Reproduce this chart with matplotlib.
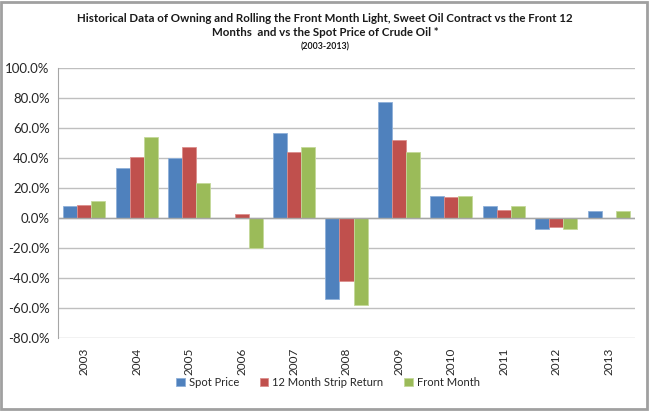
import matplotlib
matplotlib.use("Agg")
import matplotlib.pyplot as plt
import numpy as np
from matplotlib.patches import Rectangle
from matplotlib.ticker import FuncFormatter

years = ["2003", "2004", "2005", "2006", "2007", "2008", "2009", "2010", "2011", "2012", "2013"]
spot_price = [7.7, 33.5, 40.2, 0.0, 56.8, -53.8, 77.6, 14.8, 8.0, -7.3, 4.9]
strip_return = [8.4, 40.6, 47.6, 2.4, 43.8, -42.2, 51.8, 13.8, 5.1, -5.8, 0.0]
front_month = [11.5, 54.0, 23.0, -20.2, 47.1, -58.2, 44.2, 14.8, 8.0, -7.3, 4.9]
series_names = ["Spot Price", "12 Month Strip Return", "Front Month"]

plt.rcParams['font.family'] = ['Lato', 'DejaVu Sans']

fig = plt.figure(figsize=(6.5, 4.11), dpi=100)
ax = fig.add_axes([58/650, 1-338/411, (635-58)/650, (338-68)/411])

colors = ["#4F81BD", "#C0504D", "#9BBB59"]
edges = ["#8fb0d9", "#dc8e8c", "#c4d99a"]
x = np.arange(len(years))
w = 0.267
for i, (vals, c, e, n) in enumerate(zip([spot_price, strip_return, front_month], colors, edges, series_names)):
    ax.bar(x + (i-1)*w, vals, width=w, color=c, edgecolor=e, linewidth=0.6, label=n, zorder=3)

ax.set_xlim(-0.5, len(years)-0.5)
ax.set_ylim(-80, 100)
ax.set_yticks(np.arange(-80, 101, 20))
ax.yaxis.set_major_formatter(FuncFormatter(lambda v, p: f"{v:.1f}%"))
ax.grid(axis='y', color='#bfbfbf', linewidth=1.0, zorder=0)
ax.axhline(0, color='#a6a6a6', linewidth=1.0, zorder=4)
for s in ['top', 'right', 'bottom']:
    ax.spines[s].set_visible(False)
ax.spines['left'].set_color('#a6a6a6')
ax.tick_params(axis='y', length=0, pad=6, labelsize=9.5, colors='#262626')
ax.tick_params(axis='x', length=0, pad=7, labelsize=8.5, colors='#262626')
ax.set_xticks(x)
ax.set_xticklabels(years, rotation=90)

fig.text(0.5, 1-18/411, "Historical Data of Owning and Rolling the Front Month Light, Sweet Oil Contract vs the Front 12",
         ha='center', va='center', fontsize=8.3, fontweight='bold', color='#1a1a1a')
fig.text(0.5, 1-33/411, "Months  and vs the Spot Price of Crude Oil *",
         ha='center', va='center', fontsize=8.3, fontweight='bold', color='#1a1a1a')
fig.text(0.5, 1-47/411, "(2003-2013)", ha='center', va='center', fontsize=6.3, fontweight='bold', color='#1a1a1a')

leg = fig.legend(loc='center', bbox_to_anchor=(328/650, 1-382/411), ncol=3, frameon=False,
                 fontsize=8.0, handlelength=0.75, handleheight=0.75, handletextpad=0.35, columnspacing=1.9)
for t in leg.get_texts():
    t.set_color('#262626')

fig.patches.append(Rectangle((0.002, 0.004), 0.994, 0.992, transform=fig.transFigure,
                             fill=False, edgecolor='#a0a0a0', linewidth=2))

fig.savefig("out.png", dpi=100)
